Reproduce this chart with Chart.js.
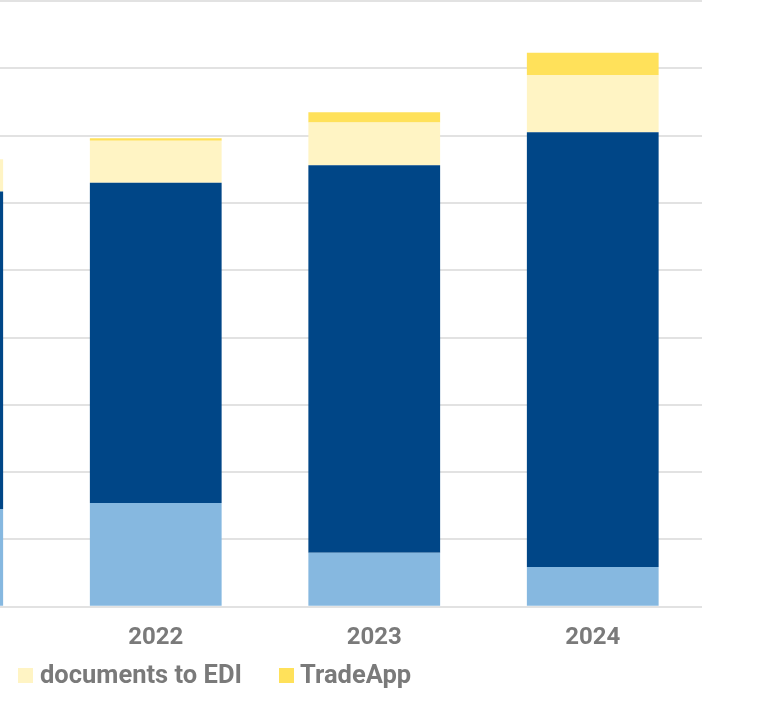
<!DOCTYPE html>
<html>
<head>
<meta charset="utf-8">
<script src="https://cdn.jsdelivr.net/npm/chart.js@4/dist/chart.umd.min.js"></script>
<style>
    html, body { margin: 0; padding: 0; background: #fff; overflow: hidden; }
    body { width: 757px; height: 708px; position: relative; }
    /* canvas is shifted left so the 2021 bar is cut off like in the source crop */
    #wrap { position: absolute; left: -200px; top: 0; width: 957px; height: 708px; }
    .legend { position: absolute; top: 659px; left: 0; font-family: Roboto, "Liberation Sans", sans-serif;
              font-weight: bold; font-size: 25.5px; color: #7a7a7a; }
    .legend-item { position: absolute; top: 0; white-space: nowrap; line-height: 30px; }
    .legend-box { position: absolute; top: 9px; width: 15px; height: 15px; }
</style>
</head>
<body>
<div id="wrap"><canvas id="stackChart" width="957" height="708"></canvas></div>
<div class="legend">
    <div class="legend-box" style="left:18px; background:#fff4c4;"></div>
    <div class="legend-item" style="left:40px;">documents to EDI</div>
    <div class="legend-box" style="left:279px; background:#ffe15a;"></div>
    <div class="legend-item" style="left:300px;">TradeApp</div>
</div>
<script>
// Data (units = one gridline step)
const years = ['2021', '2022', '2023', '2024'];
const paperDocs = [1.45, 1.54, 0.80, 0.59];
const ediDocs = [4.72, 4.76, 5.76, 6.46];
const docsToEdi = [0.48, 0.625, 0.635, 0.85];
const tradeApp = [0, 0.034, 0.153, 0.33];
const yTicks = [0, 1, 2, 3, 4, 5, 6, 7, 8, 9];

const gray = '#7a7a7a';

function makeSet(label, data, color) {
    return {
        label: label,
        data: data,
        backgroundColor: color,
        borderWidth: 0,
        categoryPercentage: 1,
        barPercentage: 0.603
    };
}

const ctx = document.getElementById('stackChart').getContext('2d');
new Chart(ctx, {
    type: 'bar',
    data: {
        labels: years,
        datasets: [
            makeSet('paper documents', paperDocs, '#86b8e0'),
            makeSet('EDI', ediDocs, '#004687'),
            makeSet('documents to EDI', docsToEdi, '#fff4c4'),
            makeSet('TradeApp', tradeApp, '#ffe15a')
        ]
    },
    options: {
        responsive: false,
        animation: false,
        layout: { padding: { left: 28, right: 55, top: 1, bottom: 46.5 } },
        plugins: {
            legend: { display: false },
            tooltip: { enabled: false }
        },
        scales: {
            x: {
                stacked: true,
                grid: { display: false },
                border: { display: false },
                ticks: {
                    color: gray,
                    padding: 9,
                    font: { family: 'Roboto, "Liberation Sans", sans-serif', size: 24, weight: 'bold' }
                }
            },
            y: {
                stacked: true,
                min: yTicks[0],
                max: yTicks[yTicks.length - 1],
                afterBuildTicks: axis => { axis.ticks = yTicks.map(v => ({ value: v })); },
                grid: { color: '#e2e2e2', lineWidth: 2, drawTicks: false },
                border: { display: false },
                ticks: { display: false }
            }
        }
    }
});
</script>
</body>
</html>
